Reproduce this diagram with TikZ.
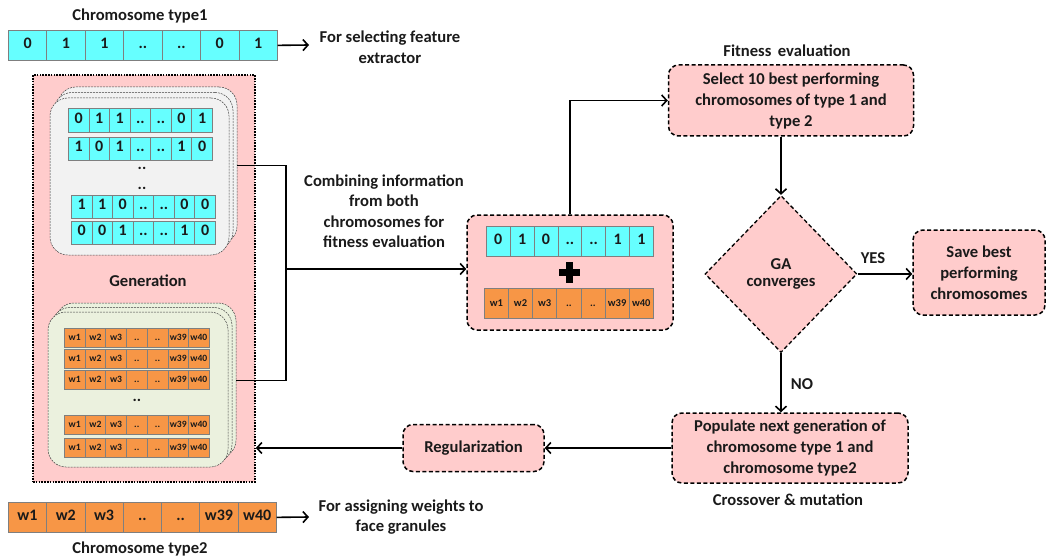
\documentclass[tikz,border=0pt]{standalone}
\usepackage{fontspec}
\setmainfont{Carlito}
\usetikzlibrary{arrows.meta,shapes.geometric}
\definecolor{cyanc}{HTML}{66FFFF}
\definecolor{orangec}{HTML}{F79646}
\definecolor{pinkc}{HTML}{FFCCCC}
\definecolor{cardgray}{HTML}{F2F2F2}
\definecolor{cardgreen}{HTML}{EBF1DE}
\definecolor{cellline}{HTML}{7F7F7F}
\definecolor{txtc}{HTML}{1A1A1A}
\newcommand\cellrow[7]{%
  \foreach \t [count=\i] in {#7} {%
    \node[#6, minimum width=#4pt, minimum height=#5pt, anchor=north west] (#1-\i) at ({#2+(\i-1)*#4},#3) {\t};}}
\begin{document}
\begin{tikzpicture}[x=1pt,y=-1pt,
  every node/.style={text=txtc},
  bigtxt/.style={font=\fontsize{16.6}{20.5}\selectfont\bfseries, align=center},
  cellbase/.style={draw=cellline, line width=0.7pt, inner sep=0pt, text height=0.62em, text depth=0pt},
  cyancell/.style={cellbase, fill=cyanc, font=\fontsize{16}{16}\selectfont\bfseries},
  orcell/.style={cellbase, fill=orangec, font=\fontsize{16}{16}\selectfont\bfseries},
  smallor/.style={cellbase, fill=orangec, font=\fontsize{10.5}{11}\selectfont\bfseries},
  tinyor/.style={cellbase, fill=orangec, font=\fontsize{9.6}{10}\selectfont\bfseries},
  card/.style={draw=black!75, dash pattern=on 2pt off 1pt, line width=0.5pt, rounded corners=18pt, minimum width=179pt, minimum height=157pt, inner sep=0pt},
  pinkbox/.style={draw=black, dash pattern=on 4pt off 2.5pt, line width=1.5pt, fill=pinkc, rounded corners=10pt, align=center, inner sep=0pt, font=\fontsize{16.6}{21}\selectfont\bfseries},
  conn/.style={line width=1.6pt},
  arr/.style={conn, -{Straight Barb[length=5pt,width=11pt]}}
]
\useasboundingbox (0,0) rectangle (1047,559);

% top chromosome
\node[bigtxt] (title1) at (140,16) {Chromosome type1};
\cellrow{top}{8}{30}{38.43}{30}{cyancell}{0,1,1,..,..,0,1}
\coordinate (selend) at (309,45);
\node[bigtxt] (seltxt) at (390,47) {For selecting feature\\extractor};
\draw[arr] (top-7.east) -- (selend);

% generation frame
\node[draw=black, dash pattern=on 1.6pt off 1.2pt, line width=1.6pt, fill=pinkc, minimum width=222pt, minimum height=407pt, inner sep=0pt] (gen) at (144,278.5) {};

% upper stack
\node[card, fill=cardgray] (upb2) at (147.5,165.5) {};
\node[card, fill=cardgray] (upb1) at (143.5,171) {};
\node[card, fill=cardgray] (upf) at (139.5,176.5) {};
\cellrow{ua}{68}{108}{20.57}{24}{cyancell}{0,1,1,..,..,0,1}
\cellrow{ub}{68}{137}{20.57}{23}{cyancell}{1,0,1,..,..,1,0}
\node[font=\fontsize{16}{16}\selectfont\bfseries] (udots1) at (142,168) {..};
\node[font=\fontsize{16}{16}\selectfont\bfseries] (udots2) at (142,188) {..};
\cellrow{uc}{71}{195}{20.57}{23}{cyancell}{1,1,0,..,..,0,0}
\cellrow{ud}{71}{221}{20.57}{23}{cyancell}{0,0,1,..,..,1,0}

\node[bigtxt] (genlbl) at (148,281) {Generation};

% lower stack
\node[card, fill=cardgreen, minimum width=180pt, minimum height=155pt] (lob2) at (146,380.5) {};
\node[card, fill=cardgreen, minimum width=180pt, minimum height=155pt] (lob1) at (142,385) {};
\node[card, fill=cardgreen, minimum width=180pt, minimum height=155pt] (lof) at (138,389.5) {};
\cellrow{la}{64}{328}{20.7}{19}{tinyor}{w1,w2,w3,..,..,w39,w40}
\cellrow{lb}{64}{349}{20.7}{19}{tinyor}{w1,w2,w3,..,..,w39,w40}
\cellrow{lc}{64}{370}{20.7}{19}{tinyor}{w1,w2,w3,..,..,w39,w40}
\node[font=\fontsize{16}{16}\selectfont\bfseries] (ldots) at (137,400) {..};
\cellrow{ld}{64}{415}{20.7}{19}{tinyor}{w1,w2,w3,..,..,w39,w40}
\cellrow{le}{64}{438}{20.7}{19}{tinyor}{w1,w2,w3,..,..,w39,w40}

% bottom chromosome
\cellrow{bot}{8}{502}{38.29}{30}{orcell}{w1,w2,w3,..,..,w39,w40}
\node[bigtxt] (title2) at (140,549) {Chromosome type2};
\coordinate (asgend) at (309,517);
\node[bigtxt] (asgtxt) at (401,517) {For assigning weights to\\face granules};
\draw[arr] (bot-7.east) -- (asgend);

% combining
\node[bigtxt] (combtxt) at (384,211) {Combining information\\from both\\chromosomes for\\fitness evaluation};
\node[pinkbox, minimum width=206pt, minimum height=115pt] (cbox) at (570,272.5) {};
\cellrow{cc}{486}{226}{23.86}{30}{cyancell}{0,1,0,..,..,1,1}
\cellrow{co}{484}{288}{24.14}{30}{smallor}{w1,w2,w3,..,..,w39,w40}
\node[inner sep=0pt, minimum size=20pt] (plus) at (569.5,272.5) {};
\fill[black] ([xshift=-3.5pt]plus.north) rectangle ([xshift=3.5pt]plus.south);
\fill[black] ([yshift=-3.5pt]plus.west) rectangle ([yshift=3.5pt]plus.east);

\coordinate (bus) at (286,269);
\draw[conn] (upb2.east) -| (bus) |- (lob2.east);
\draw[arr] (bus) -- (bus -| cbox.west);

% right side
\node[bigtxt] (fittitle) at (787,51) {Fitness\, evaluation};
\node[pinkbox, minimum width=245pt, minimum height=71pt] (fit) at (791,100.5) {Select 10 best performing\\chromosomes of type 1 and\\type 2};
\draw[arr] (cbox.north) |- (fit.west);

\node[diamond, draw=black, dash pattern=on 4pt off 2.5pt, line width=1.3pt, fill=pinkc, minimum width=152pt, minimum height=157pt, inner sep=0pt, align=center, font=\fontsize{16.6}{17.5}\selectfont\bfseries] (dia) at (781,274) {GA\\converges};
\draw[arr] (fit.south -| dia.north) -- (dia.north);

\node[pinkbox, minimum width=132pt, minimum height=85pt] (save) at (979,272.5) {Save best\\performing\\chromosomes};
\draw[arr] (dia.east) -- (dia.east -| save.west);
\node[bigtxt] (yes) at (873,258) {YES};

\node[pinkbox, minimum width=236pt, minimum height=70pt] (pop) at (790,448) {Populate next generation of\\chromosome type 1 and\\chromosome type2};
\draw[arr] (dia.south) -- (dia.south |- pop.north);
\node[bigtxt] (no) at (802,384) {NO};
\node[bigtxt] (xover) at (788,500) {Crossover \& mutation};

\node[pinkbox, minimum width=141pt, minimum height=47pt] (reg) at (473.5,448) {Regularization};
\draw[arr] (pop.west) -- (reg.east);
\draw[arr] (reg.west) -- (reg.west -| gen.east);
\end{tikzpicture}
\end{document}
